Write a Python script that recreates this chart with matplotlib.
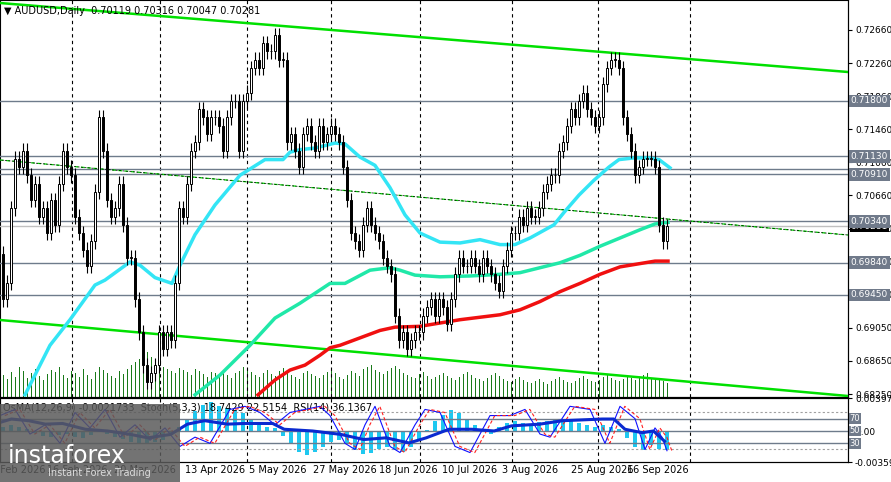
import numpy as np
import matplotlib
matplotlib.use("Agg")
import matplotlib.pyplot as plt
from matplotlib.patches import Rectangle

closes = [0.694,0.696,0.705,0.711,0.710,0.712,0.709,0.706,0.708,0.704,0.705,0.702,0.706,0.703,0.708,0.712,
0.710,0.709,0.704,0.702,0.700,0.698,0.701,0.707,0.716,0.712,0.706,0.704,0.705,0.708,0.703,0.699,0.699,0.694,
0.690,0.686,0.684,0.685,0.686,0.690,0.688,0.690,0.689,0.696,0.705,0.704,0.708,0.712,0.713,0.717,0.716,0.714,
0.716,0.716,0.715,0.712,0.716,0.718,0.718,0.712,0.718,0.719,0.722,0.723,0.722,0.725,0.724,0.724,0.726,0.723,
0.723,0.713,0.714,0.712,0.710,0.714,0.715,0.713,0.712,0.715,0.713,0.714,0.715,0.714,0.713,0.710,0.706,0.702,
0.701,0.700,0.703,0.705,0.703,0.702,0.701,0.699,0.698,0.697,0.692,0.689,0.690,0.688,0.689,0.690,0.690,0.692,
0.693,0.694,0.692,0.694,0.693,0.691,0.694,0.697,0.699,0.698,0.698,0.699,0.698,0.697,0.699,0.698,0.697,0.696,
0.695,0.698,0.700,0.702,0.702,0.704,0.703,0.705,0.704,0.704,0.705,0.707,0.708,0.709,0.709,0.712,0.713,0.715,
0.717,0.716,0.718,0.719,0.717,0.716,0.715,0.716,0.720,0.722,0.723,0.723,0.722,0.716,0.714,0.712,0.709,0.710,
0.711,0.711,0.711,0.710,0.703,0.701,0.70281]
opens_first = 0.6995
wick = 0.0009

volumes = [22,18,25,20,30,26,19,24,28,21,17,23,27,25,30,22,19,26,24,20,28,22,18,25,30,27,24,21,19,26,
23,28,32,35,38,42,45,40,36,33,30,28,26,24,29,27,25,22,28,26,23,20,25,24,21,27,22,19,24,26,
30,28,25,22,20,24,27,23,21,26,29,25,22,20,18,24,26,23,21,19,22,25,27,24,20,18,22,26,24,21,
28,30,32,27,25,23,26,29,31,28,24,22,20,19,23,25,21,18,20,22,24,21,19,17,20,23,25,22,19,18,
16,19,22,24,21,18,16,15,18,20,17,15,14,16,18,15,13,16,18,20,17,15,14,16,19,21,18,16,15,17,
20,22,19,17,16,18,21,19,17,20,22,24,18,17,19,16,14]

ma1_x = [5.5,11.75,16.75,23,25.5,31.75,34.25,38,42.25,44.25,48,53,59.25,65.5,70,71.75,74.25,78,83,85.5,89.25,93,96.75,100.5,104.25,109.25,114.25,119.25,124.25,128,131.75,135.5,137.75,140.25,144,147.75,151.5,154,157.75,161.5,164,166.75]
ma1_y = [0.6824,0.6884,0.6915,0.6957,0.6963,0.6985,0.6981,0.6966,0.6959,0.6981,0.7018,0.7054,0.7090,0.7109,0.7109,0.7118,0.7121,0.7123,0.7129,0.7128,0.7112,0.7102,0.7075,0.7042,0.7020,0.7009,0.7008,0.7012,0.7006,0.7006,0.7014,0.7024,0.7030,0.7045,0.7066,0.7084,0.7100,0.7109,0.7111,0.7111,0.7109,0.7099]
ma2_x = [48,54.25,61.75,68,74.25,81.75,85.5,91.75,96.75,99.25,103,109.25,116.75,124.25,129.25,134.25,139.25,144.25,149.25,154.25,159.25,163,166.25]
ma2_y = [0.6824,0.6848,0.6884,0.6917,0.6935,0.6959,0.6959,0.6975,0.6978,0.6975,0.6969,0.6967,0.6968,0.6970,0.6972,0.6978,0.6984,0.6993,0.7004,0.7014,0.7024,0.7031,0.7033]
ma3_x = [63.75,68,71.75,75.5,79.25,81.75,84.25,89.25,94.25,98,104.25,109.25,114.25,119.25,124.25,129.25,134.25,139.25,144.25,149.25,154.25,159.25,163,166.25]
ma3_y = [0.6824,0.6842,0.6854,0.6860,0.6872,0.6881,0.6884,0.6893,0.6902,0.6906,0.6907,0.6911,0.6915,0.6918,0.6921,0.6927,0.6937,0.6949,0.6959,0.6970,0.6979,0.6983,0.6986,0.6986]

levels = [0.71800,0.71130,0.70910,0.70340,0.69840,0.69450]
price_ticks = [0.68250,0.68650,0.69050,0.69450,0.69850,0.70250,0.70660,0.71060,0.71460,0.71860,0.72260,0.72660]
date_labels = ["4 Feb 2026","16 Feb 2026","20 Mar 2026","13 Apr 2026","5 May 2026","27 May 2026","18 Jun 2026","10 Jul 2026","3 Aug 2026","25 Aug 2026","16 Sep 2026"]
date_centers_px = [18,77,145,215,278,345,408,470,530,602,658]
vgrid = [17.25,39.25,61,82,104.25,127.25,148.75,171.75]

osma = [0.5,0.8,0.6,0.3,-0.2,-0.5,-0.6,-0.4,-0.3,-0.6,-0.8,-0.4,0.2,-0.3,-0.6,-0.9,-1.2,-1.5,-1.4,-1.2,
-1.0,-0.4,0.6,1.5,2.4,3.2,3.5,3.0,2.8,2.5,2.2,1.5,1.0,0.6,0.4,-0.5,-1.5,-2.4,-2.8,-2.4,
-1.8,-1.2,-1.0,-1.5,-2.2,-2.6,-2.5,-2.0,-1.8,-2.2,-2.4,-1.8,-1.0,0.2,1.2,2.0,2.5,2.2,1.5,0.8,
0.3,-0.3,0.5,1.0,1.2,1.0,0.9,1.1,1.3,1.4,1.5,1.3,1.0,0.8,0.6,0.8,0.6,0.3,-0.8,-1.8,-2.2,-1.6,-2.0,-2.2]
rsi_x = [-0.75,2.1,6.4,10.6,14.9,20.6,26.2,31.9,36.2,41.9,46.1,50.4,56.1,60.3,67.4,70.3,77.4,84.5,90.2,95.8,101.5,105.8,111.5,117.1,122.8,127.1,134.2,139.9,144.1,149.8,152.7,155.5,159.8,162.6,165.4]
rsi_v = [63.9,69.4,66.7,61.1,62.2,52.8,50,44.4,38.9,44.4,61.1,66.7,61.1,62.2,62.2,52.8,50,44.4,36.1,38.9,30.6,38.9,52.8,52.8,50,58.3,61.1,66.7,67.8,69.4,69.4,52.8,47.2,50,33.3]
stoch_x = [0,15,30,45,60,75,90,105,120,135,150,165,180,195,210,230,245,260,275,290,305,320,330,345,355,365,375,390,400,415,425,440,455,470,490,510,525,540,550,570,590,605,620,635,645,655,662,667]
stoch_v = [75,85,45,60,30,80,55,85,40,60,35,55,25,40,30,85,90,80,60,80,85,90,75,30,20,60,90,25,15,60,85,80,25,15,75,75,85,45,40,90,85,30,90,70,20,55,40,18]

plt.rcParams['font.family'] = ['DejaVu Sans']
fig = plt.figure(figsize=(8.91, 4.82), dpi=100)
W, H = 891, 482
def px2bar(x): return (x - 3) / 4.0
xmin, xmax = px2bar(0), px2bar(848)

ax = fig.add_axes([0, 1 - 397/H, 848/W, 397/H])
ymin = 0.72660 - (397 - 30) / 8254
ymax = 0.72660 + 30 / 8254
ax.set_xlim(xmin, xmax); ax.set_ylim(ymin, ymax)

axv = ax.twinx()
axv.set_ylim(0, 397); axv.set_yticks([])
n = len(closes)
idx = np.arange(n)
axv.bar(idx, volumes, width=0.25, color='#1a7a1a', zorder=1)
axv.set_zorder(0); ax.set_zorder(1); ax.patch.set_visible(False)

for v in vgrid:
    ax.axvline(v, color='black', ls=(0, (3, 3)), lw=0.8, zorder=1)
for l in levels + [0.70970]:
    ax.axhline(l, color='#6e7b8b', lw=1, zorder=2)
ax.axhline(0.70281, color='#c0c0c0', lw=1, zorder=2)

ax.plot([px2bar(0), px2bar(848)], [0.7266 + 27/8254, 0.7266 - 42/8254], color='#00e000', lw=1.8, zorder=3)
ax.plot([px2bar(0), px2bar(848)], [0.7266 - 290/8254, 0.7266 - 366/8254], color='#00e000', lw=1.8, zorder=3)
ax.plot([px2bar(0), px2bar(848)], [0.7266 - 130/8254, 0.7266 - 205/8254], color='#00e000', lw=0.9, ls=(0, (3, 2)), zorder=3)
ax.plot([px2bar(0), px2bar(848)], [0.7266 - 130/8254, 0.7266 - 205/8254], color='black', lw=0.5, ls=(3, (3, 2)), zorder=3)

ax.plot(ma1_x, ma1_y, color='#33e5f5', lw=2.5, zorder=4)
ax.plot(ma2_x, ma2_y, color='#20e8a8', lw=2.5, zorder=4)
ax.plot(ma3_x, ma3_y, color='#f01010', lw=2.5, zorder=4)

opens = [opens_first] + closes[:-1]
for i, (o, c) in enumerate(zip(opens, closes)):
    hi = max(o, c) + wick; lo = min(o, c) - wick
    ax.vlines(i, lo, hi, color='black', lw=0.8, zorder=5)
    up = c >= o
    ax.add_patch(Rectangle((i - 0.35, min(o, c)), 0.7, max(abs(c - o), 0.00005),
                           facecolor='white' if up else 'black', edgecolor='black', lw=0.7, zorder=6))

ax.yaxis.tick_right()
ax.set_yticks(price_ticks)
ax.set_yticklabels([f"{t:.5f}" for t in price_ticks], fontsize=6.5)
ax.tick_params(axis='y', length=3, pad=2, direction='out')
ax.set_xticks([])
for s in ['top', 'left']:
    ax.spines[s].set_visible(False)
for l in levels:
    ax.text(1.003, l, f"{l:.5f}", transform=ax.get_yaxis_transform(), fontsize=6.5, color='white',
            va='center', ha='left', bbox=dict(boxstyle='square,pad=0.2', fc='#707a8a', ec='none'), zorder=10, clip_on=False)
ax.text(1.003, 0.70281, "0.70281", transform=ax.get_yaxis_transform(), fontsize=6.5, color='white',
        va='center', ha='left', bbox=dict(boxstyle='square,pad=0.1', fc='black', ec='none'), zorder=9, clip_on=False)
ax.text(0.005, 0.985, "▼ AUDUSD,Daily  0.70119 0.70316 0.70047 0.70281", transform=ax.transAxes,
        fontsize=7, va='top', ha='left', zorder=10)

ax2 = fig.add_axes([0, 1 - 462/H, 848/W, 64/H])
ax2.set_xlim(xmin, xmax); ax2.set_ylim(-3.593, 3.974)
for v in vgrid:
    ax2.axvline(v, color='black', ls=(0, (3, 3)), lw=0.8)
ax2.bar(np.arange(len(osma)) * 2, osma, width=0.8, color='#1ec8f0', zorder=2)
ax3 = ax2.twinx()
ax3.set_ylim(-0.3, 103.5)
for lv in [70, 50, 30]:
    ax3.axhline(lv, color='#6e7b8b', lw=1)
for lv in [80, 20]:
    ax3.axhline(lv, color='#a0a0a0', lw=0.8, ls=(0, (2, 2)))
sx = [px2bar(x) for x in stoch_x]
ax3.plot(sx, stoch_v, color='#1010ff', lw=0.8)
ax3.plot([x + 1.2 for x in sx], stoch_v, color='#ff2020', lw=0.8, ls=(0, (3, 2)))
ax3.plot(rsi_x, rsi_v, color='#0a2ad0', lw=2.2)
ax2.set_xticks([]); ax2.yaxis.tick_right()
ax2.set_yticks([3.974, 0, -3.593]); ax2.set_yticklabels(["0.003974", "0.00", "-0.003593"], fontsize=6.5)
ax2.tick_params(axis='y', length=3, pad=2)
ax3.set_yticks([]); ax3.set_xlim(xmin, xmax)
for lv in [70, 50, 30]:
    ax3.text(1.002, lv, str(lv), transform=ax3.get_yaxis_transform(), fontsize=6, color='white', va='center',
             bbox=dict(boxstyle='square,pad=0.1', fc='#707a8a', ec='none'), clip_on=False)
ax2.text(0.003, 0.93, "OsMA(12,26,9) -0.0021733  Stoch(5,3,3) 18.7429 22.5154  RSI(14) 36.1367",
         transform=ax2.transAxes, fontsize=7, va='top', zorder=10)

for c, lab in zip(date_centers_px, date_labels):
    fig.text(c / W, 1 - 470/H, lab, fontsize=7, ha='center', va='center')

fig.patches.append(Rectangle((0, 0), 180/W, 78/H, transform=fig.transFigure, fc='#5a5a5a', alpha=0.85, ec='none', zorder=20))
fig.text(8/W, 1 - 456/H, "instaforex", fontsize=17, color='white', va='center', zorder=21)
fig.text(48/W, 1 - 473/H, "Instant Forex Trading", fontsize=7, color='#dddddd', va='center', zorder=21)

fig.savefig("out.png", dpi=100)
